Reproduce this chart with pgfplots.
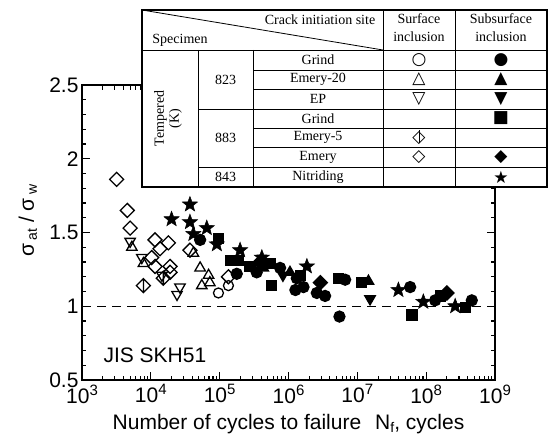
\documentclass[border=0pt]{standalone}
\usepackage{fontspec}
\setmainfont{Liberation Sans}
\newfontfamily\tabfont{Liberation Serif}
\newfontfamily\symfont{DejaVu Sans}
\usepackage{pgfplots}
\pgfplotsset{compat=1.18}

\pgfdeclareplotmark{fstar}{%
 \pgfpathmoveto{\pgfpointpolar{90}{\pgfplotmarksize}}%
 \pgfpathlineto{\pgfpointpolar{126}{0.42\pgfplotmarksize}}%
 \pgfpathlineto{\pgfpointpolar{162}{\pgfplotmarksize}}%
 \pgfpathlineto{\pgfpointpolar{198}{0.42\pgfplotmarksize}}%
 \pgfpathlineto{\pgfpointpolar{234}{\pgfplotmarksize}}%
 \pgfpathlineto{\pgfpointpolar{270}{0.42\pgfplotmarksize}}%
 \pgfpathlineto{\pgfpointpolar{306}{\pgfplotmarksize}}%
 \pgfpathlineto{\pgfpointpolar{342}{0.42\pgfplotmarksize}}%
 \pgfpathlineto{\pgfpointpolar{18}{\pgfplotmarksize}}%
 \pgfpathlineto{\pgfpointpolar{54}{0.42\pgfplotmarksize}}%
 \pgfpathclose\pgfusepathqfillstroke}
\pgfdeclareplotmark{odiam}{%
 \pgfpathmoveto{\pgfqpoint{0pt}{\pgfplotmarksize}}%
 \pgfpathlineto{\pgfqpoint{\pgfplotmarksize}{0pt}}%
 \pgfpathlineto{\pgfqpoint{0pt}{-\pgfplotmarksize}}%
 \pgfpathlineto{\pgfqpoint{-\pgfplotmarksize}{0pt}}%
 \pgfpathclose\pgfusepathqstroke}
\pgfdeclareplotmark{fdiam}{%
 \pgfpathmoveto{\pgfqpoint{0pt}{\pgfplotmarksize}}%
 \pgfpathlineto{\pgfqpoint{\pgfplotmarksize}{0pt}}%
 \pgfpathlineto{\pgfqpoint{0pt}{-\pgfplotmarksize}}%
 \pgfpathlineto{\pgfqpoint{-\pgfplotmarksize}{0pt}}%
 \pgfpathclose\pgfusepathqfillstroke}
\pgfdeclareplotmark{dbar}{%
 \pgfpathmoveto{\pgfqpoint{0pt}{\pgfplotmarksize}}%
 \pgfpathlineto{\pgfqpoint{\pgfplotmarksize}{0pt}}%
 \pgfpathlineto{\pgfqpoint{0pt}{-\pgfplotmarksize}}%
 \pgfpathlineto{\pgfqpoint{-\pgfplotmarksize}{0pt}}%
 \pgfpathclose
 \pgfpathmoveto{\pgfqpoint{0pt}{\pgfplotmarksize}}%
 \pgfpathlineto{\pgfqpoint{0pt}{-\pgfplotmarksize}}%
 \pgfusepathqstroke}

\newcommand\ex[1]{\raisebox{8pt}{\fontsize{15}{15}\selectfont #1}}
\newcommand\sub[1]{\raisebox{-3pt}{\fontsize{14}{14}\selectfont #1}}
\newcommand\tf{\tabfont\fontsize{14}{15}\selectfont}
\newcommand\sym{\symfont\fontsize{17}{18}\selectfont}

\begin{document}
\begin{tikzpicture}
\begin{axis}[name=ax, scale only axis, width=413pt, height=295pt,
  xmode=log, xmin=1e3, xmax=1e9, ymin=0.5, ymax=2.5,
  xtick={1e3,1e4,1e5,1e6,1e7,1e8,1e9},
  xticklabels={10\ex{3},10\ex{4},10\ex{5},10\ex{6},10\ex{7},10\ex{8},10\ex{9}},
  minor xtick={2e3,3e3,4e3,5e3,6e3,7e3,8e3,9e3,
               2e4,3e4,4e4,5e4,6e4,7e4,8e4,9e4,
               2e5,3e5,4e5,5e5,6e5,7e5,8e5,9e5,
               2e6,3e6,4e6,5e6,6e6,7e6,8e6,9e6,
               2e7,3e7,4e7,5e7,6e7,7e7,8e7,9e7,
               2e8,3e8,4e8,5e8,6e8,7e8,8e8,9e8},
  ytick={0.5,1,1.5,2,2.5}, yticklabels={0.5,1,1.5,2,2.5},
  minor y tick num=4,
  tick align=inside, major tick length=8pt, minor tick length=4.5pt,
  every tick/.style={black, line width=1.1pt},
  axis line style={line width=1.6pt},
  tick label style={font=\fontsize{21}{24}\selectfont},
  xticklabel style={yshift=-1pt},
  xlabel={Number of cycles to failure\hspace{14pt}N\sub{f}, cycles},
  ylabel={σ\,\sub{at} / σ\,\sub{w}},
  label style={font=\fontsize{21}{24}\selectfont},
  xlabel style={at={(axis description cs:0.5,-0.148)}, anchor=center},
  ylabel style={at={(axis description cs:-0.131,0.54)}, anchor=center},
  every axis plot/.append style={black, line width=1.3pt},
]
\addplot[mark=none, line width=1.3pt, dash pattern=on 9pt off 6pt] coordinates {(1e3,1) (1e9,1)};
% open diamond (Emery, surface)
\addplot[only marks, mark=odiam, mark size=7pt] coordinates {
(3.19e3,1.86) (4.55e3,1.65) (5.0e3,1.53) (1.15e4,1.45) (1.8e4,1.43) (1.36e4,1.39)
(1.03e4,1.33) (3.7e4,1.38) (1.15e4,1.27) (1.9e4,1.27) (1.9e4,1.23) (1.34e5,1.20)};
% diamond with bar (Emery-5, surface)
\addplot[only marks, mark=dbar, mark size=7pt] coordinates {(7.8e3,1.14) (1.52e4,1.19)};
% open down triangle (EP, surface)
\addplot[only marks, mark=triangle, mark size=6pt, mark options={rotate=180}] coordinates {
(5.0e3,1.44) (7.4e3,1.33) (2.65e4,1.13) (2.4e4,1.08) (1.45e4,1.21)};
% open up triangle (Emery-20, surface)
\addplot[only marks, mark=triangle, mark size=6pt] coordinates {
(5.3e3,1.40) (7.8e3,1.29) (5.2e4,1.26) (6.9e4,1.21) (5.5e4,1.14) (7.2e4,1.16) (4.15e4,1.36)};
% open circle (Grind 823, surface)
\addplot[only marks, mark=o, mark size=5pt] coordinates {(9.6e4,1.09) (1.34e5,1.14)};
% filled circle (Grind 823, subsurface)
\addplot[only marks, mark=*, mark size=5.5pt] coordinates {
(5.2e4,1.45) (1.77e5,1.22) (3.45e5,1.23) (7.55e5,1.26) (1.32e6,1.19) (1.65e6,1.13)
(2.58e6,1.09) (3.4e6,1.07) (6.65e6,1.18) (5.5e6,0.93) (5.85e7,1.13) (1.35e8,1.04)
(4.6e8,1.04) (1.26e6,1.11)};
% filled square (Grind 883, subsurface)
\addplot[only marks, mark=square*, mark size=5pt] coordinates {
(9.6e4,1.46) (1.42e5,1.31) (1.87e5,1.31) (2.77e5,1.27) (5.7e5,1.14) (5.4e5,1.29)
(5.3e6,1.19) (1.16e7,1.16) (6.2e7,0.94) (3.7e8,0.99) (1.6e8,1.07) (1.5e6,1.21)};
% filled up triangle (Emery-20, subsurface)
\addplot[only marks, mark=triangle*, mark size=6pt] coordinates {(1.45e7,1.17) (4.3e5,1.26) (1.05e6,1.23)};
% filled down triangle (EP, subsurface)
\addplot[only marks, mark=triangle*, mark size=6pt, mark options={rotate=180}] coordinates {(1.53e7,1.05) (8.3e5,1.21)};
% filled diamond (Emery, subsurface)
\addplot[only marks, mark=fdiam, mark size=7pt] coordinates {(2.0e8,1.09) (3.9e5,1.30) (2.9e6,1.16)};
% filled star (Nitriding 843, subsurface)
\addplot[only marks, mark=fstar, mark size=8pt, line width=0.5pt] coordinates {
(3.7e4,1.69) (2.0e4,1.59) (3.7e4,1.57) (6.5e4,1.53) (9.1e4,1.42) (1.98e5,1.38)
(4.1e5,1.33) (1.85e6,1.27) (3.95e7,1.11) (9.1e7,1.03) (2.64e8,1.00) (4.15e4,1.49)};
\end{axis}

\begin{scope}[shift={(ax.south west)}, shift={(-82pt,380pt)}, x=1pt, y=-1pt]
\node[anchor=west, font=\fontsize{21}{24}\selectfont] at (100,355) {JIS SKH51};
\fill[white] (142,10) rectangle (547,187);
\begin{scope}[line width=0.8pt]
\draw (383,10) -- (383,187);
\draw (455,10) -- (455,187);
\draw (142,50) -- (547,50);
\draw (198,50) -- (198,187);
\draw (253,50) -- (253,187);
\foreach \y in {70,89,128,147} \draw (253,\y) -- (547,\y);
\foreach \y in {109,167} \draw (198,\y) -- (547,\y);
\draw (142,10) -- (383,50);
\end{scope}
\draw[line width=1.8pt] (142,10) rectangle (547,187);
\node[font=\tf] at (320,20) {Crack initiation site};
\node[font=\tf] at (180,40) {Specimen};
\node[font=\tf] at (419,19) {Surface};
\node[font=\tf] at (419,37) {inclusion};
\node[font=\tf] at (501,19) {Subsurface};
\node[font=\tf] at (501,37) {inclusion};
\node[font=\tf] at (318,60) {Grind};
\node[font=\tf] at (318,79.5) {Emery-20};
\node[font=\tf] at (318,99) {EP};
\node[font=\tf] at (318,118.5) {Grind};
\node[font=\tf] at (318,137.5) {Emery-5};
\node[font=\tf] at (318,157) {Emery};
\node[font=\tf] at (318,177) {Nitriding};
\node[font=\tf] at (225.5,79.5) {823};
\node[font=\tf] at (225.5,137.5) {883};
\node[font=\tf] at (225.5,177) {843};
\node[font=\tf, rotate=90, align=center] at (168,118.5) {Tempered\\(K)};
\node[font=\sym] at (419,60) {○};
\node[font=\sym] at (419,79.5) {△};
\node[font=\sym] at (419,99) {▽};
\node[font=\sym] at (419,137.5) {\makebox[0pt]{◇}\makebox[0pt]{\rule[-1pt]{1pt}{13pt}}};
\node[font=\sym] at (419,157) {◇};
\node[font=\sym] at (501,60) {●};
\node[font=\sym] at (501,79.5) {▲};
\node[font=\sym] at (501,99) {▼};
\node[font=\sym] at (501,118.5) {■};
\node[font=\sym] at (501,157) {◆};
\node[font=\sym] at (501,177) {★};
\pgfresetboundingbox
\useasboundingbox (0,0) rectangle (549,437);
\end{scope}
\end{tikzpicture}
\end{document}
